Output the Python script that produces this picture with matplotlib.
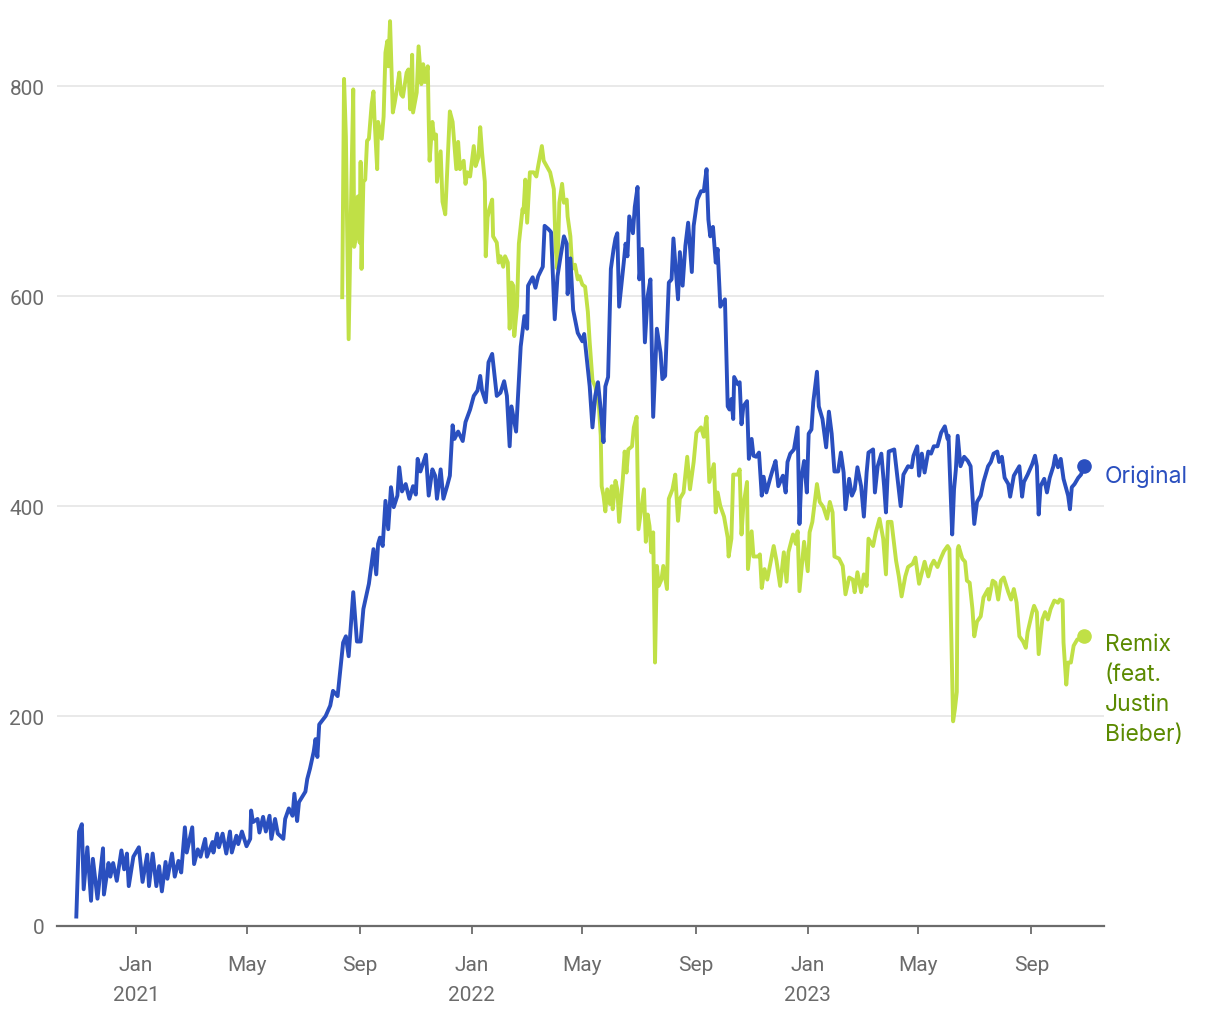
import matplotlib
matplotlib.use("Agg")
import matplotlib.pyplot as plt
import pandas as pd

# ---------------- data (days since 2021-01-01, value) ----------------
base_date = "2021-01-01"

original_day = [-65, -62, -59, -57, -53, -49, -47, -42, -36, -35, -30, -28, -25, -21, -16, -13, -10, -8, -3, 3, 7, 12, 14, 18, 22, 25, 28, 32, 34, 39, 42, 46, 49, 53, 55, 61, 63, 67, 70, 75, 77, 83, 84, 88, 90, 94, 98, 102, 104, 109, 111, 115, 120, 124, 125, 127, 132, 134, 138, 141, 145, 147, 151, 154, 160, 162, 166, 170, 172, 175, 177, 184, 186, 189, 193, 195, 197, 199, 206, 211, 214, 219, 222, 225, 228, 231, 236, 238, 240, 244, 247, 251, 253, 258, 261, 263, 265, 268, 271, 274, 277, 280, 284, 286, 289, 293, 297, 301, 304, 306, 309, 315, 318, 322, 325, 327, 331, 334, 338, 341, 344, 346, 350, 355, 358, 363, 367, 371, 374, 376, 380, 383, 387, 392, 396, 400, 403, 406, 408, 413, 418, 422, 425, 426, 431, 434, 437, 442, 444, 448, 451, 455, 458, 461, 465, 468, 469, 472, 475, 480, 485, 487, 491, 493, 496, 499, 502, 505, 508, 510, 513, 516, 519, 521, 523, 525, 530, 532, 534, 536, 540, 542, 545, 547, 550, 553, 556, 559, 562, 566, 570, 572, 575, 579, 582, 584, 589, 591, 594, 597, 600, 604, 606, 610, 614, 617, 620, 622, 624, 627, 630, 632, 635, 640, 643, 645, 647, 649, 650, 654, 656, 658, 660, 664, 666, 669, 671, 674, 677, 680, 682, 685, 689, 692, 695, 698, 703, 706, 708, 711, 715, 719, 721, 723, 726, 729, 731, 734, 736, 740, 742, 746, 750, 753, 756, 759, 763, 766, 769, 771, 775, 778, 781, 784, 788, 791, 794, 796, 801, 803, 806, 810, 813, 815, 818, 824, 828, 831, 834, 839, 843, 845, 849, 851, 854, 857, 861, 864, 867, 871, 875, 879, 882, 883, 887, 889, 891, 893, 896, 900, 904, 907, 911, 914, 918, 921, 926, 929, 932, 936, 938, 941, 944, 948, 950, 954, 960, 963, 965, 969, 974, 977, 979, 981, 983, 987, 990, 993, 997, 999, 1002, 1005, 1008, 1013, 1015, 1017, 1020, 1024, 1027, 1030]
original_val = [9, 90, 97, 35, 75, 24, 64, 26, 74, 30, 60, 47, 60, 43, 72, 54, 69, 38, 66, 75, 42, 68, 38, 69, 38, 57, 33, 61, 45, 69, 47, 62, 51, 94, 70, 94, 59, 73, 66, 83, 66, 80, 70, 88, 75, 88, 69, 90, 70, 86, 78, 90, 76, 83, 110, 99, 102, 89, 104, 90, 105, 83, 102, 88, 83, 102, 112, 105, 126, 100, 118, 128, 140, 150, 166, 178, 161, 192, 200, 210, 224, 219, 245, 270, 276, 257, 318, 295, 271, 271, 302, 318, 326, 359, 335, 364, 370, 362, 405, 378, 418, 399, 410, 437, 414, 421, 407, 419, 411, 445, 433, 449, 410, 435, 429, 407, 435, 407, 419, 429, 477, 464, 471, 462, 480, 492, 505, 510, 524, 510, 499, 537, 545, 505, 508, 519, 505, 457, 495, 471, 552, 581, 569, 610, 618, 608, 619, 628, 667, 664, 661, 578, 619, 636, 657, 650, 602, 636, 587, 565, 557, 564, 531, 514, 475, 505, 518, 492, 461, 514, 523, 626, 645, 655, 660, 590, 632, 650, 638, 676, 660, 685, 704, 616, 645, 556, 600, 616, 485, 569, 546, 521, 524, 613, 616, 655, 597, 642, 610, 648, 670, 623, 667, 692, 700, 700, 721, 673, 657, 666, 632, 645, 590, 597, 495, 492, 502, 483, 523, 516, 518, 478, 495, 500, 445, 464, 448, 447, 451, 410, 428, 413, 426, 435, 443, 419, 429, 413, 442, 450, 454, 475, 383, 426, 443, 413, 469, 473, 499, 528, 495, 483, 456, 490, 469, 433, 433, 451, 432, 397, 426, 410, 416, 437, 419, 390, 432, 451, 454, 413, 438, 450, 419, 394, 452, 454, 423, 400, 430, 438, 437, 448, 457, 429, 450, 432, 452, 450, 457, 457, 470, 476, 464, 467, 373, 416, 435, 467, 438, 447, 443, 438, 383, 404, 410, 423, 438, 442, 450, 452, 442, 447, 427, 421, 409, 429, 438, 409, 423, 430, 440, 448, 438, 392, 419, 426, 413, 427, 438, 448, 437, 445, 426, 410, 397, 418, 421, 427, 430, 438]

remix_day = [224, 226, 228, 231, 234, 236, 237, 239, 241, 243, 244, 245, 247, 249, 251, 253, 256, 258, 259, 262, 263, 267, 269, 271, 273, 274, 276, 279, 281, 284, 286, 288, 290, 294, 296, 298, 300, 301, 305, 307, 310, 312, 314, 317, 318, 319, 322, 324, 326, 327, 331, 333, 336, 338, 341, 344, 346, 348, 350, 352, 356, 358, 360, 363, 367, 369, 372, 374, 376, 379, 380, 382, 384, 387, 388, 392, 394, 396, 399, 401, 404, 406, 408, 410, 411, 414, 416, 420, 421, 423, 425, 428, 432, 435, 437, 441, 443, 448, 450, 454, 456, 458, 460, 463, 465, 468, 469, 472, 474, 477, 480, 482, 485, 488, 491, 493, 496, 499, 503, 505, 506, 508, 510, 512, 515, 517, 518, 521, 523, 525, 529, 531, 533, 535, 539, 541, 544, 546, 549, 552, 554, 556, 558, 560, 562, 564, 566, 568, 571, 573, 577, 579, 583, 586, 589, 591, 595, 599, 602, 606, 609, 614, 617, 620, 623, 628, 630, 632, 635, 639, 643, 644, 647, 649, 654, 656, 658, 660, 664, 665, 669, 671, 676, 678, 680, 683, 686, 690, 693, 696, 700, 704, 707, 709, 714, 717, 719, 721, 726, 730, 732, 735, 740, 743, 747, 751, 754, 757, 759, 764, 768, 771, 775, 779, 781, 784, 788, 791, 794, 796, 801, 804, 808, 812, 815, 817, 821, 826, 829, 832, 836, 839, 844, 847, 851, 855, 857, 861, 864, 867, 871, 875, 878, 882, 884, 887, 888, 890, 892, 893, 894, 898, 901, 903, 906, 909, 911, 914, 918, 921, 926, 927, 931, 934, 937, 940, 943, 948, 951, 954, 957, 960, 964, 967, 969, 974, 976, 979, 981, 985, 988, 991, 994, 998, 1002, 1004, 1007, 1008, 1011, 1013, 1016, 1019, 1023, 1027, 1030]
remix_val = [599, 807, 752, 559, 709, 797, 647, 657, 695, 651, 728, 626, 709, 711, 748, 750, 783, 795, 771, 721, 766, 750, 771, 832, 843, 819, 862, 775, 784, 800, 813, 792, 790, 813, 816, 778, 830, 775, 794, 838, 802, 821, 804, 819, 769, 729, 766, 750, 754, 709, 738, 690, 678, 718, 776, 766, 743, 721, 747, 721, 729, 707, 718, 714, 743, 724, 732, 761, 737, 709, 638, 675, 683, 692, 657, 651, 632, 638, 628, 638, 632, 569, 613, 610, 562, 590, 650, 683, 680, 711, 670, 718, 718, 714, 724, 743, 729, 721, 718, 702, 645, 626, 689, 707, 689, 692, 676, 657, 626, 630, 616, 619, 611, 609, 585, 556, 520, 514, 495, 467, 419, 410, 395, 416, 402, 419, 397, 424, 416, 385, 426, 452, 432, 454, 457, 475, 485, 378, 397, 416, 366, 392, 381, 356, 375, 251, 343, 324, 330, 343, 321, 407, 416, 430, 386, 407, 413, 447, 416, 442, 470, 475, 466, 485, 423, 440, 394, 413, 400, 390, 370, 352, 369, 430, 430, 435, 373, 400, 423, 340, 376, 352, 352, 354, 322, 340, 330, 348, 362, 348, 324, 356, 328, 356, 373, 364, 376, 319, 366, 338, 375, 385, 421, 404, 399, 388, 404, 394, 352, 350, 343, 316, 332, 330, 318, 337, 318, 335, 324, 369, 362, 375, 388, 369, 335, 385, 385, 348, 333, 314, 333, 342, 345, 351, 326, 340, 347, 333, 343, 348, 342, 351, 357, 362, 359, 235, 195, 207, 223, 359, 362, 350, 347, 329, 327, 302, 276, 290, 295, 313, 321, 311, 329, 327, 311, 329, 332, 318, 311, 321, 308, 276, 271, 265, 280, 299, 305, 299, 259, 292, 299, 292, 302, 310, 308, 311, 310, 270, 230, 251, 251, 267, 273, 273, 276]

series_names = ["Original", "Remix\n(feat.\nJustin\nBieber)"]
y_ticks = [0, 200, 400, 600, 800]
x_tick_dates = ["2021-01-01", "2021-05-01", "2021-09-01", "2022-01-01", "2022-05-01",
                "2022-09-01", "2023-01-01", "2023-05-01", "2023-09-01"]
x_tick_labels = ["Jan\n2021", "May", "Sep", "Jan\n2022", "May", "Sep", "Jan\n2023", "May", "Sep"]
x_limits = ["2020-10-07", "2023-11-19"]
y_limits = [0, 865]

# ---------------- styling ----------------
BLUE = "#2a4fbf"
GREEN = "#c0e046"
GREEN_TEXT = "#5b8a00"
AXIS = "#6b6b6b"
GRID = "#e3e3e3"
TICK_FONT = ["Roboto", "DejaVu Sans"]
LABEL_FONT = ["Inter", "DejaVu Sans"]

b0 = pd.Timestamp(base_date)
orig_dates = [b0 + pd.Timedelta(days=d) for d in original_day]
remix_dates = [b0 + pd.Timedelta(days=d) for d in remix_day]

fig = plt.figure(figsize=(12.2, 10.2), dpi=100)
ax = fig.add_axes([57 / 1220, 93 / 1020, 1047 / 1220, 908 / 1020])

ax.plot(remix_dates, remix_val, color=GREEN, lw=2.8, solid_joinstyle="round", zorder=3)
ax.plot(orig_dates, original_val, color=BLUE, lw=2.8, solid_joinstyle="round", zorder=4)
ax.plot([remix_dates[-1]], [remix_val[-1]], "o", color=GREEN, ms=9.5, zorder=5, clip_on=False)
ax.plot([orig_dates[-1]], [original_val[-1]], "o", color=BLUE, ms=9.5, zorder=5, clip_on=False)

ax.annotate(series_names[0], xy=(orig_dates[-1], original_val[-1]), xytext=(21, -16),
            textcoords="offset pixels", color=BLUE, fontsize=16.5, family=LABEL_FONT,
            va="baseline", ha="left", annotation_clip=False)
ax.annotate(series_names[1], xy=(remix_dates[-1], remix_val[-1]), xytext=(21, 3),
            textcoords="offset pixels", color=GREEN_TEXT, fontsize=16.5, family=LABEL_FONT,
            va="top", ha="left", linespacing=1.47, annotation_clip=False)

ax.set_xlim(pd.Timestamp(x_limits[0]), pd.Timestamp(x_limits[1]))
ax.set_ylim(*y_limits)
ax.set_yticks(y_ticks)
ax.set_yticklabels([str(v) for v in y_ticks])
ax.set_xticks([pd.Timestamp(d) for d in x_tick_dates])
ax.set_xticklabels(x_tick_labels, linespacing=1.75)

for s in ["top", "right", "left"]:
    ax.spines[s].set_visible(False)
ax.spines["bottom"].set_color(AXIS)
ax.spines["bottom"].set_linewidth(1.6)

ax.grid(axis="y", color=GRID, lw=1.1, zorder=0)
ax.set_axisbelow(True)
ax.tick_params(axis="y", length=0, pad=9, labelsize=15, labelcolor=AXIS)
ax.tick_params(axis="x", length=6, width=1.3, color=AXIS, pad=15, labelsize=15, labelcolor=AXIS)
for lab in ax.get_xticklabels() + ax.get_yticklabels():
    lab.set_family(TICK_FONT)
for gl, v in zip(ax.yaxis.get_gridlines(), y_ticks):
    if v == 0:
        gl.set_visible(False)

fig.savefig("out.png", dpi=100, facecolor="white")
